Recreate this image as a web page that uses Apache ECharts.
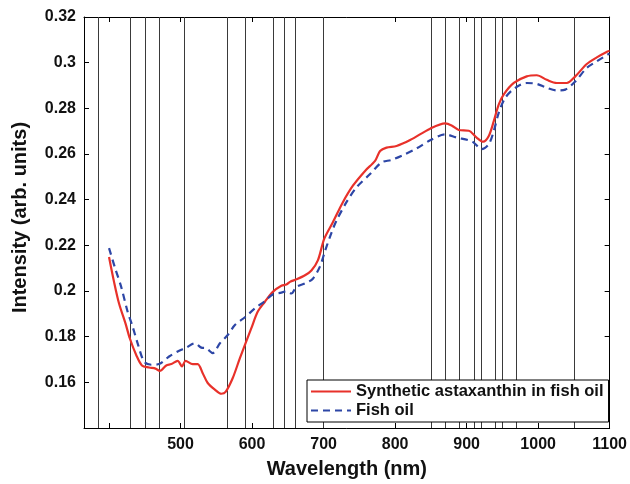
<!DOCTYPE html>
<html>
<head>
<meta charset="utf-8">
<script src="https://cdn.jsdelivr.net/npm/echarts@6/dist/echarts.min.js"></script>
<style>
  html, body { margin: 0; padding: 0; background: #fff; }
  #chart { width: 630px; height: 484px; }
</style>
</head>
<body>
<div id="chart"></div>
<script>
// values
var redNm = [400, 407, 414, 423, 429, 438, 446, 456, 465, 471, 480, 487, 496, 502, 507, 517, 524, 531, 538, 548, 557, 563, 573, 583, 599, 608, 618, 629, 641, 648, 653, 662, 674, 683, 692, 701, 713, 727, 741, 758, 772, 779, 788, 802, 821, 849, 870, 879, 889, 903, 914, 923, 931, 938, 945, 952, 966, 984, 998, 1012, 1026, 1040, 1052, 1068, 1082, 1097, 1100]
var redVal = [0.2149, 0.204, 0.1945, 0.1858, 0.1793, 0.172, 0.1674, 0.1665, 0.166, 0.165, 0.1674, 0.168, 0.1694, 0.167, 0.1694, 0.168, 0.168, 0.164, 0.1597, 0.1568, 0.155, 0.1558, 0.1619, 0.1706, 0.1837, 0.191, 0.1953, 0.1996, 0.2023, 0.2028, 0.204, 0.2051, 0.2069, 0.209, 0.2134, 0.2229, 0.2301, 0.2389, 0.2461, 0.2526, 0.257, 0.2613, 0.2628, 0.2635, 0.2661, 0.2711, 0.2734, 0.2725, 0.2705, 0.2702, 0.2672, 0.2654, 0.2679, 0.2744, 0.2817, 0.2861, 0.2911, 0.294, 0.2945, 0.2925, 0.2911, 0.2911, 0.294, 0.2994, 0.3023, 0.3049, 0.3052]

var blueNm = [400, 408, 417, 426, 433, 440, 449, 459, 470, 484, 496, 508, 520, 529, 536, 545, 555, 566, 576, 590, 604, 618, 629, 641, 648, 655, 662, 674, 685, 695, 702, 711, 718, 732, 746, 765, 781, 795, 811, 830, 849, 870, 886, 903, 910, 921, 931, 938, 945, 954, 968, 984, 998, 1012, 1026, 1038, 1052, 1068, 1082, 1097, 1100]
var blueVal = [0.2188, 0.2105, 0.2018, 0.1909, 0.1844, 0.1771, 0.1691, 0.1677, 0.168, 0.1713, 0.1735, 0.1752, 0.1771, 0.1752, 0.1749, 0.1728, 0.1771, 0.1807, 0.1851, 0.1885, 0.1924, 0.1956, 0.1985, 0.1993, 0.1999, 0.1989, 0.2018, 0.2033, 0.2054, 0.2108, 0.2175, 0.2255, 0.2308, 0.2389, 0.2454, 0.2512, 0.2563, 0.2574, 0.2595, 0.2624, 0.266, 0.2686, 0.2672, 0.266, 0.265, 0.2621, 0.2643, 0.2701, 0.2781, 0.2846, 0.289, 0.2911, 0.2907, 0.289, 0.2878, 0.2882, 0.2918, 0.2977, 0.3006, 0.3035, 0.304]

// vertical reference lines (nm)
var markNm = [385, 430, 450, 470, 505, 565, 590, 630, 645, 660, 700, 850, 870, 890, 910, 920, 940, 950, 970, 1050]

var xLabels = [500, 600, 700, 800, 900, 1000, 1100]
var xTicks = [400, 500, 600, 700, 800, 900, 1000, 1100]

function pairs(xs, ys) {
  var out = []
  for (var i = 0; i < xs.length; i++) {
    out.push([xs[i], ys[i]])
  }
  return out
}

var chart = echarts.init(document.getElementById('chart'))
var font = 'Liberation Sans, Arial, sans-serif'

var option = {
  backgroundColor: '#fff',
  animation: false,
  grid: {
    left: 84,
    right: 20,
    top: 17,
    bottom: 54
  },
  legend: {
    orient: 'vertical',
    left: 307,
    top: 380,
    data: ['Synthetic astaxanthin in fish oil', 'Fish oil'],
    backgroundColor: '#fff',
    borderColor: '#000',
    borderWidth: 1,
    padding: [3, 5, 3, 3],
    itemGap: 2,
    itemWidth: 40,
    itemHeight: 18,
    itemStyle: { opacity: 0 },
    textStyle: {
      fontFamily: font,
      fontWeight: 'bold',
      fontSize: 16.5,
      color: '#111'
    }
  },
  xAxis: [
    {
      type: 'value',
      min: 365,
      max: 1100,
      name: 'Wavelength (nm)',
      nameLocation: 'middle',
      nameGap: 31,
      nameTextStyle: { fontFamily: font, fontWeight: 'bold', fontSize: 20, color: '#111' },
      axisLine: { lineStyle: { color: '#000', width: 1 } },
      axisTick: { inside: true, length: 5, customValues: xTicks, lineStyle: { color: '#000' } },
      axisLabel: {
        customValues: xLabels,
        margin: 9,
        fontFamily: font,
        fontWeight: 'bold',
        fontSize: 16,
        color: '#111',
        formatter: function (v) { return String(v) }
      },
      splitLine: { show: false }
    },
    {
      type: 'value',
      position: 'top',
      min: 365,
      max: 1100,
      axisLine: { show: true, lineStyle: { color: '#000', width: 1 } },
      axisTick: { inside: true, length: 5, customValues: xTicks, lineStyle: { color: '#000' } },
      axisLabel: { show: false },
      splitLine: { show: false }
    }
  ],
  yAxis: [
    {
      type: 'value',
      min: 0.14,
      max: 0.32,
      interval: 0.02,
      name: 'Intensity (arb. units)',
      nameLocation: 'middle',
      nameGap: 54,
      nameTextStyle: { fontFamily: font, fontWeight: 'bold', fontSize: 20, color: '#111', padding: [0, 0, 0, 10] },
      axisLine: { show: true, lineStyle: { color: '#000', width: 1 } },
      axisTick: { inside: true, length: 5, lineStyle: { color: '#000' } },
      axisLabel: {
        margin: 8,
        fontFamily: font,
        fontWeight: 'bold',
        fontSize: 16,
        color: '#111',
        formatter: function (v) {
          if (v <= 0.1401) return ''
          return String(+v.toFixed(2))
        }
      },
      splitLine: { show: false }
    },
    {
      type: 'value',
      position: 'right',
      min: 0.14,
      max: 0.32,
      interval: 0.02,
      axisLine: { show: true, lineStyle: { color: '#000', width: 1 } },
      axisTick: { inside: true, length: 5, lineStyle: { color: '#000' } },
      axisLabel: { show: false },
      splitLine: { show: false }
    }
  ],
  series: [
    {
      name: 'Synthetic astaxanthin in fish oil',
      type: 'line',
      data: pairs(redNm, redVal),
      symbol: 'none',
      smooth: 0.3,
      color: '#e8312a',
      lineStyle: { color: '#e8312a', width: 2.2 },
      z: 3,
      markLine: {
        silent: true,
        symbol: 'none',
        label: { show: false },
        lineStyle: { color: '#3a3a3a', width: 1, type: 'solid' },
        data: markNm.map(function (v) { return { xAxis: v } }),
        z: 1
      }
    },
    {
      name: 'Fish oil',
      type: 'line',
      data: pairs(blueNm, blueVal),
      symbol: 'none',
      smooth: 0.3,
      color: '#2d46a6',
      lineStyle: { color: '#2d46a6', width: 2.2, type: [7, 5] },
      z: 3
    }
  ]
}

chart.setOption(option)
</script>
</body>
</html>
